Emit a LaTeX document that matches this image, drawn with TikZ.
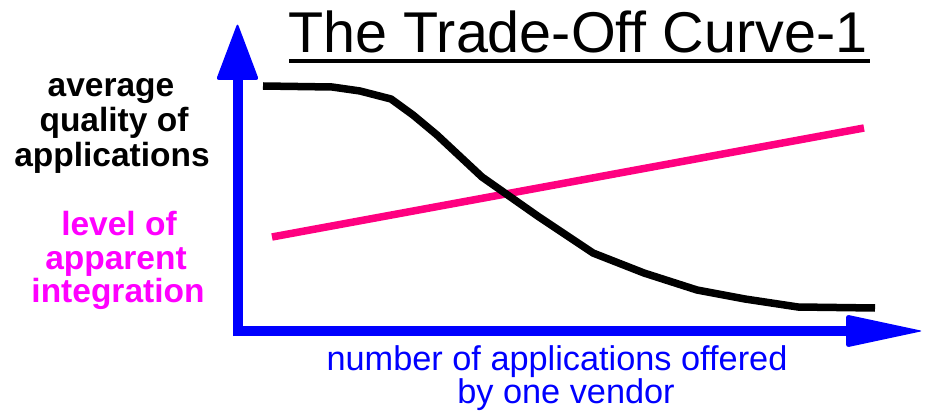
\documentclass[tikz,border=0pt]{standalone}
\usepackage{fontspec}
\setmainfont{Liberation Sans}
\definecolor{axisblue}{RGB}{0,0,255}
\definecolor{linepink}{RGB}{255,0,128}
\definecolor{labelpink}{RGB}{255,0,255}
\tikzset{
  axisline/.style={draw=axisblue, line width=10pt},
  tiphead/.style={fill=axisblue, rounded corners=3pt},
  qualitycurve/.style={draw=black, line width=7.5pt, line join=round},
  integrationline/.style={draw=linepink, line width=7.5pt},
  sidelabel/.style={inner sep=0pt, anchor=base, font=\fontsize{33.5}{36}\selectfont\bfseries},
  axislabel/.style={inner sep=0pt, anchor=base, text=axisblue, font=\fontsize{34.3}{36}\selectfont},
}
\begin{document}
\begin{tikzpicture}[x=1pt, y=-1pt]
\useasboundingbox (0,0) rectangle (925,411);

% title with underline
\node[inner sep=0pt, anchor=base, font=\fontsize{57.5}{60}\selectfont] (title) at (578,53) {The Trade-Off Curve-1};
\draw[line width=4pt] (289,61) -- (870,61);

% axes
\coordinate (origin) at (238,331);
\coordinate (ytop) at (238,80);
\coordinate (xend) at (846,331);
\draw[axisline] (origin |- 0,336) -- (ytop);
\draw[axisline] (233,331) -- (xend);
\fill[tiphead] (216,80) -- (237.5,23) -- (259,80) -- cycle;
\fill[tiphead] (846,314.5) -- (923,331) -- (846,347.5) -- cycle;

% integration level (rising straight line)
\coordinate (pinkstart) at (272,237);
\coordinate (pinkend) at (864,128);
\draw[integrationline] (pinkstart) -- (pinkend);

% average quality (falling curve)
\draw[qualitycurve] (263,86) -- (332,87) -- (360,91) -- (391,99) -- (413,115)
  -- (437,135) -- (482,177) -- (539,217) -- (593,253) -- (644,273)
  -- (697,290) -- (745,299) -- (798,307) -- (875,308);

% labels on the left
\node[sidelabel] (avg1) at (111,97) {average};
\node[sidelabel] (avg2) at (114,132) {quality of};
\node[sidelabel] (avg3) at (112,167) {applications};
\node[sidelabel, text=labelpink] (lev1) at (119,236) {level of};
\node[sidelabel, text=labelpink] (lev2) at (116,270) {apparent};
\node[sidelabel, text=labelpink] (lev3) at (118,302) {integration};

% label under the horizontal axis
\node[axislabel] (num1) at (557,370) {number of applications offered};
\node[axislabel] (num2) at (566,403) {by one vendor};
\end{tikzpicture}
\end{document}
